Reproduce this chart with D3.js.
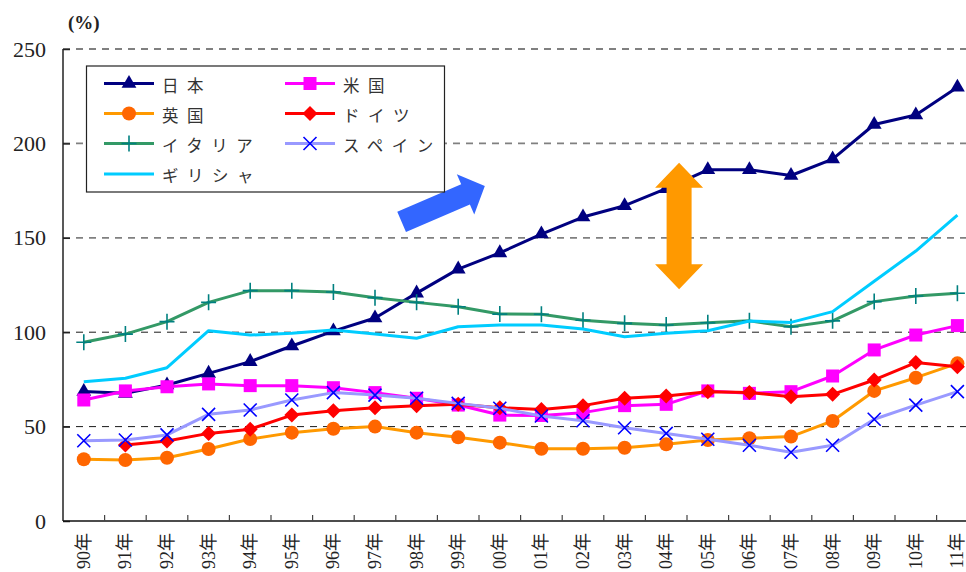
<!DOCTYPE html>
<html><head><meta charset="utf-8">
<script src="https://cdn.jsdelivr.net/npm/d3@7"></script>
<style>body{margin:0;background:#fff}svg{display:block}</style>
</head><body>
<script>
// ---- data ----
const years = ["90年","91年","92年","93年","94年","95年","96年","97年","98年","99年","00年","01年","02年","03年","04年","05年","06年","07年","08年","09年","10年","11年"];
const yTicks = [0, 50, 100, 150, 200, 250];
const japan   = [68.6, 67.6, 72.0, 78.2, 84.4, 92.7, 100.6, 107.5, 120.7, 133.4, 142.0, 152.0, 161.0, 167.0, 176.0, 186.0, 186.0, 183.0, 191.7, 210.0, 215.0, 229.7];
const usa     = [64.1, 68.9, 71.1, 72.6, 71.7, 71.7, 70.6, 68.0, 65.0, 61.4, 56.1, 55.9, 57.4, 61.1, 61.8, 68.9, 67.6, 68.5, 76.8, 90.6, 98.5, 103.5];
const uk      = [32.7, 32.3, 33.5, 38.1, 43.4, 46.8, 48.9, 50.0, 46.8, 44.3, 41.5, 38.3, 38.3, 38.8, 40.6, 42.9, 43.8, 44.7, 53.0, 68.9, 75.9, 83.5];
const germany = [null, 40.3, 42.4, 46.4, 48.6, 56.1, 58.4, 60.0, 61.1, 61.8, 60.0, 59.1, 61.1, 65.0, 66.2, 68.5, 68.1, 65.8, 67.1, 74.7, 83.9, 81.7];
const italy   = [94.7, 99.0, 105.6, 115.8, 122.0, 122.0, 121.3, 118.3, 115.8, 113.5, 109.6, 109.5, 106.3, 104.7, 103.8, 105.0, 106.0, 102.9, 106.0, 116.2, 119.2, 120.6];
const spain   = [42.5, 42.9, 45.6, 56.5, 58.8, 64.1, 68.0, 66.7, 65.0, 62.3, 59.7, 55.6, 53.1, 49.4, 46.4, 43.3, 40.1, 36.4, 40.1, 53.9, 61.4, 68.5];
const greece  = [73.8, 75.6, 81.2, 100.8, 98.5, 99.4, 101.2, 99.0, 96.8, 102.9, 103.8, 103.8, 101.7, 97.6, 99.4, 100.8, 105.9, 105.2, 110.9, 127.0, 143.0, 162.0];
const seriesNames = ["日本", "米国", "英国", "ドイツ", "イタリア", "スペイン", "ギリシャ"];
const unitLabel = "(%)";
// annotation arrows in (category position, value) units
const blueArrow = [[8.14, 158.4], [10.14, 177.4]];
const orangeArrow = [[14.81, 189.8], [14.81, 122.7]];

// ---- styles ----
const seriesData = [japan, usa, uk, germany, italy, spain, greece];
const styles = [
  {line:"#000080", mark:"#000080", sym:"tri"},
  {line:"#FF00FF", mark:"#FF00FF", sym:"sq"},
  {line:"#FF9900", mark:"#FF6600", sym:"circ"},
  {line:"#FF0000", mark:"#FF0000", sym:"dia"},
  {line:"#339966", mark:"#008080", sym:"plus"},
  {line:"#9999FF", mark:"#0000FF", sym:"x"},
  {line:"#00CCFF", mark:null, sym:null}
];

const W = 966, H = 572;
const svg = d3.select("body").append("svg").attr("width", W).attr("height", H);
const x = d3.scaleBand().domain(years).range([63, 63 + 41.6 * 22]).padding(0);
const y = d3.scaleLinear().domain([0, 250]).range([521, 49]);
const cx = d => x(d) + x.bandwidth() / 2;
const pos = p => [x.range()[0] + p[0] * x.step(), y(p[1])];

// gridlines
svg.append("g").selectAll("line").data(yTicks.filter(t => t > 0)).join("line")
  .attr("x1", 63).attr("x2", W).attr("y1", d => y(d)).attr("y2", d => y(d))
  .attr("stroke", d => d <= 100 ? "#1a1a1a" : "#808080")
  .attr("stroke-width", d => d <= 100 ? 1 : 1.8)
  .attr("stroke-dasharray", "7,6");

// y axis
const ya = svg.append("g").attr("transform", "translate(63,0)")
  .call(d3.axisLeft(y).tickValues(yTicks).tickSize(-7).tickPadding(17).tickFormat(d3.format("d")));
ya.select(".domain").attr("stroke", "#222").attr("stroke-width", 1.5).attr("d", `M0,${y(250)}V${y(0)}`);
ya.selectAll(".tick line").attr("stroke", "#222").attr("stroke-width", 1.5);
ya.selectAll(".tick text").attr("font-family", "'Liberation Serif', serif").attr("font-size", 22).attr("fill", "#222");

// x axis
svg.append("line").attr("x1", 63).attr("x2", W).attr("y1", y(0)).attr("y2", y(0))
  .attr("stroke", "#111").attr("stroke-width", 1.6);
svg.append("g").selectAll("line").data(years.slice(1)).join("line")
  .attr("x1", d => x(d)).attr("x2", d => x(d)).attr("y1", y(0)).attr("y2", y(0) - 6)
  .attr("stroke", "#444").attr("stroke-width", 1.2);
svg.append("g").selectAll("text").data(years).join("text")
  .attr("transform", d => `translate(${cx(d)},533) rotate(-90)`)
  .attr("text-anchor", "end").attr("dominant-baseline", "central")
  .attr("font-family", "'Liberation Serif', 'Noto Sans CJK JP', serif").attr("font-size", 18).attr("fill", "#222")
  .text(d => d);

// unit label
svg.append("text").attr("x", 68).attr("y", 22).attr("dominant-baseline", "central")
  .attr("font-family", "'Liberation Serif', serif").attr("font-size", 19).attr("font-weight", "bold").attr("fill", "#222")
  .text(unitLabel);

// markers
function drawMarker(g, sym, color, px, py) {
  if (sym === "tri") g.append("path").attr("d", d3.symbol(d3.symbolTriangle, 95)()).attr("transform", `translate(${px},${py})`).attr("fill", color);
  else if (sym === "sq") g.append("rect").attr("x", px - 6.5).attr("y", py - 6.5).attr("width", 13).attr("height", 13).attr("fill", color);
  else if (sym === "circ") g.append("circle").attr("cx", px).attr("cy", py).attr("r", 7).attr("fill", color);
  else if (sym === "dia") g.append("path").attr("d", `M${px},${py-7.5}L${px+7.5},${py}L${px},${py+7.5}L${px-7.5},${py}Z`).attr("fill", color);
  else if (sym === "plus") g.append("path").attr("d", `M${px-7.5},${py}H${px+7.5}M${px},${py-8}V${py+8}`).attr("stroke", color).attr("stroke-width", 1.6).attr("fill", "none");
  else if (sym === "x") g.append("path").attr("d", `M${px-6.5},${py-6.5}L${px+6.5},${py+6.5}M${px+6.5},${py-6.5}L${px-6.5},${py+6.5}`).attr("stroke", color).attr("stroke-width", 1.6).attr("fill", "none");
}

// series
const line = d3.line().defined(d => d[1] != null).x(d => cx(d[0])).y(d => y(d[1]));
seriesData.forEach((vals, i) => {
  const st = styles[i];
  const g = svg.append("g");
  const pts = years.map((yr, j) => [yr, vals[j]]);
  g.append("path").attr("d", line(pts)).attr("fill", "none").attr("stroke", st.line)
    .attr("stroke-width", 3).attr("stroke-linejoin", "round");
  if (st.sym) pts.filter(p => p[1] != null).forEach(p => drawMarker(g, st.sym, st.mark, cx(p[0]), y(p[1])));
});

// arrows
function arrowPath(p0, p1, shw, hhw, hl, dbl) {
  const dx = p1[0] - p0[0], dy = p1[1] - p0[1], L = Math.hypot(dx, dy), ux = dx / L, uy = dy / L, nx = -uy, ny = ux;
  const pt = (t, n) => [p0[0] + ux * t + nx * n, p0[1] + uy * t + ny * n];
  let pts;
  if (dbl) pts = [pt(0,0), pt(hl,hhw), pt(hl,shw), pt(L-hl,shw), pt(L-hl,hhw), pt(L,0), pt(L-hl,-hhw), pt(L-hl,-shw), pt(hl,-shw), pt(hl,-hhw)];
  else pts = [pt(0,shw), pt(L-hl,shw), pt(L-hl,hhw), pt(L,0), pt(L-hl,-hhw), pt(L-hl,-shw), pt(0,-shw)];
  return "M" + pts.map(p => p.join(",")).join("L") + "Z";
}
svg.append("path").attr("d", arrowPath(pos(blueArrow[0]), pos(blueArrow[1]), 11, 22, 21, false)).attr("fill", "#3366FF");
svg.append("path").attr("d", arrowPath(pos(orangeArrow[0]), pos(orangeArrow[1]), 12.5, 24, 25, true)).attr("fill", "#FF9900");

// legend
const lg = svg.append("g");
lg.append("rect").attr("x", 86.5).attr("y", 66).attr("width", 358).attr("height", 126).attr("fill", "#fff").attr("stroke", "#222").attr("stroke-width", 1.2);
const colX = [104, 285], rowY = [83.5, 113.5, 143.5, 174];
seriesNames.forEach((name, i) => {
  const lx = colX[i % 2], ly = rowY[Math.floor(i / 2)], st = styles[i];
  lg.append("line").attr("x1", lx).attr("x2", lx + 50).attr("y1", ly).attr("y2", ly).attr("stroke", st.line).attr("stroke-width", 3);
  if (st.sym) drawMarker(lg, st.sym, st.mark, lx + 25, ly);
  lg.append("text").attr("x", lx + 58).attr("y", ly + 1).attr("dominant-baseline", "central")
    .attr("font-family", "'Noto Sans CJK JP', sans-serif").attr("font-size", 16.5).attr("letter-spacing", 8.5)
    .attr("fill", "#333").text(name);
});
</script>
</body></html>
